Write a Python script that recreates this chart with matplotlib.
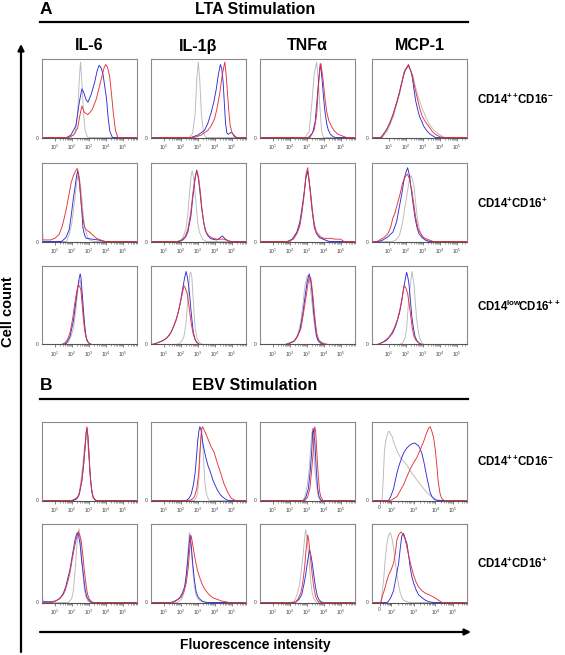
import numpy as np
import matplotlib.pyplot as plt
from matplotlib.ticker import FixedLocator, NullFormatter

plt.rcParams['font.family'] = ['Liberation Sans', 'DejaVu Sans']
plt.rcParams['mathtext.fontset'] = 'custom'
plt.rcParams['mathtext.rm'] = 'Liberation Sans'
plt.rcParams['mathtext.bf'] = 'Liberation Sans:bold'

cytokines = ["IL-6", "IL-1β", "TNFα", "MCP-1"]
subsets = [r"$\mathbf{CD14^{++}\!CD16^{-}}$", r"$\mathbf{CD14^{+}CD16^{+}}$",
           r"$\mathbf{CD14^{low}\!CD16^{++}}$"]

# histograms: (log10 fluorescence, % of max cell count) per panel
# order inside each list: IL-6, IL-1b, TNFa, MCP-1
lta_hi_grey = [
    [(1.9, 0), (2.2, 5), (2.35, 30), (2.45, 75), (2.52, 96), (2.6, 70), (2.7, 30), (2.8, 8), (2.95, 0)],
    [(2.5, 0), (2.7, 5), (2.85, 30), (2.95, 75), (3.04, 96), (3.12, 75), (3.22, 30), (3.35, 5), (3.5, 0)],
    [(2.9, 0), (3.15, 8), (3.3, 42), (3.45, 82), (3.59, 96), (3.68, 75), (3.78, 40), (3.88, 8), (4.0, 0)],
    [(0.6, 0), (0.9, 8), (1.25, 26), (1.62, 55), (1.9, 82), (2.15, 91), (2.4, 80), (2.58, 63), (2.75, 50),
     (2.96, 37), (3.15, 27), (3.35, 18), (3.55, 12), (3.73, 8), (3.95, 4), (4.2, 1), (4.35, 0)],
]
lta_hi_blue = [
    [(1.7, 0), (1.95, 3), (2.25, 15), (2.45, 45), (2.6, 62), (2.7, 58), (2.85, 48), (2.96, 45), (3.15, 55),
     (3.35, 70), (3.5, 85), (3.62, 92), (3.75, 88), (3.85, 80), (3.95, 65), (4.05, 50), (4.15, 25), (4.25, 8), (4.4, 0)],
    [(2.6, 0), (3.0, 3), (3.4, 9), (3.6, 18), (3.8, 32), (3.95, 45), (4.1, 62), (4.22, 80), (4.34, 93), (4.42, 88),
     (4.5, 71), (4.57, 45), (4.64, 19), (4.72, 6), (4.8, 4), (4.92, 6), (5.04, 6), (5.14, 2), (5.24, 0)],
    [(3.1, 0), (3.35, 6), (3.5, 20), (3.62, 50), (3.7, 71), (3.8, 94), (3.86, 85), (3.92, 71), (4.0, 50),
     (4.08, 33), (4.18, 18), (4.27, 10), (4.4, 4), (4.57, 1), (4.7, 0)],
    [(0.56, 0), (0.85, 10), (1.05, 18), (1.23, 29), (1.45, 44), (1.62, 58), (1.8, 74), (1.95, 86), (2.15, 92),
     (2.3, 84), (2.38, 76), (2.48, 60), (2.58, 46), (2.7, 35), (2.8, 27), (3.06, 14), (3.25, 8), (3.44, 4), (3.73, 0)],
]
lta_hi_red = [
    [(1.8, 0), (2.1, 3), (2.35, 12), (2.5, 30), (2.6, 40), (2.75, 32), (2.95, 29), (3.2, 35), (3.45, 49),
     (3.6, 62), (3.75, 75), (3.9, 88), (4.0, 93), (4.1, 90), (4.23, 79), (4.35, 55), (4.45, 32), (4.58, 9), (4.72, 0)],
    [(2.8, 0), (3.2, 3), (3.6, 9), (3.8, 15), (4.0, 24), (4.15, 38), (4.3, 56), (4.45, 80), (4.6, 96), (4.68, 80),
     (4.76, 56), (4.85, 30), (4.92, 15), (5.04, 5), (5.15, 3), (5.3, 0)],
    [(3.2, 0), (3.45, 10), (3.59, 29), (3.68, 60), (3.75, 80), (3.84, 94), (3.9, 85), (3.98, 71), (4.08, 50),
     (4.18, 33), (4.3, 22), (4.47, 14), (4.65, 8), (4.86, 4), (5.1, 2), (5.35, 0)],
    [(0.5, 0), (0.85, 9), (1.23, 28), (1.62, 57), (1.9, 84), (2.15, 93), (2.38, 79), (2.52, 64), (2.67, 50),
     (2.8, 38), (2.96, 27), (3.15, 20), (3.35, 14), (3.55, 8), (3.73, 4), (4.0, 1), (4.2, 0)],
]

lta_mid_grey = [
    [(1.7, 0), (1.86, 10), (2.0, 22), (2.16, 50), (2.3, 75), (2.4, 88), (2.5, 75), (2.6, 55), (2.7, 30),
     (2.8, 15), (2.95, 5), (3.06, 2), (3.3, 0)],
    [(2.0, 0), (2.13, 5), (2.3, 15), (2.42, 35), (2.52, 62), (2.62, 85), (2.68, 90), (2.77, 80), (2.9, 50),
     (3.0, 25), (3.1, 12), (3.29, 3), (3.5, 0)],
    [(2.04, 0), (2.3, 5), (2.52, 15), (2.7, 35), (2.81, 50), (2.95, 80), (3.06, 88), (3.15, 75), (3.25, 60),
     (3.36, 38), (3.48, 20), (3.6, 12), (3.77, 8), (3.9, 4), (4.1, 2), (4.3, 0)],
    [(1.2, 0), (1.42, 2), (1.62, 8), (1.81, 25), (1.95, 45), (2.1, 65), (2.2, 78), (2.29, 84), (2.38, 80),
     (2.48, 70), (2.58, 48), (2.67, 30), (2.8, 15), (2.96, 6), (3.1, 2), (3.3, 0)],
]
lta_mid_blue = [
    [(1.4, 0), (1.66, 5), (1.85, 15), (1.96, 31), (2.1, 55), (2.2, 70), (2.3, 85), (2.36, 90), (2.45, 78),
     (2.52, 60), (2.6, 38), (2.66, 18), (2.76, 8), (2.86, 4), (3.2, 3), (3.56, 2), (3.96, 0)],
    [(1.9, 0), (2.13, 2), (2.3, 6), (2.42, 12), (2.6, 32), (2.71, 55), (2.85, 80), (2.94, 91), (3.05, 80),
     (3.15, 60), (3.25, 40), (3.35, 25), (3.45, 14), (3.58, 8), (3.75, 4), (3.87, 3), (4.1, 2), (4.25, 3),
     (4.38, 6), (4.46, 7), (4.55, 5), (4.63, 3), (4.8, 1), (4.92, 0)],
    [(1.85, 0), (2.15, 3), (2.42, 12), (2.6, 25), (2.71, 40), (2.85, 62), (2.96, 82), (3.06, 90), (3.12, 82),
     (3.19, 70), (3.27, 52), (3.35, 35), (3.45, 18), (3.58, 10), (3.75, 5), (3.96, 3), (4.2, 1), (4.35, 0)],
    [(0.4, 0), (0.65, 2), (0.94, 6), (1.23, 12), (1.45, 25), (1.62, 45), (1.75, 60), (1.9, 80), (2.0, 88),
     (2.1, 94), (2.2, 85), (2.29, 70), (2.42, 48), (2.54, 30), (2.65, 18), (2.77, 10), (2.95, 5), (3.15, 2), (3.4, 0)],
]
lta_mid_red = [
    [(0.25, 30), (0.3, 2), (0.76, 2), (1.0, 4), (1.26, 9), (1.45, 20), (1.66, 39), (1.8, 55), (1.96, 74),
     (2.1, 84), (2.26, 91), (2.33, 93), (2.4, 86), (2.48, 70), (2.56, 48), (2.66, 30), (2.76, 18), (2.9, 14),
     (3.06, 12), (3.25, 8), (3.46, 4), (3.7, 2), (3.96, 0)],
    [(1.8, 0), (2.04, 2), (2.25, 6), (2.42, 15), (2.6, 38), (2.71, 60), (2.85, 82), (2.96, 90), (3.05, 82),
     (3.15, 65), (3.25, 42), (3.38, 22), (3.5, 12), (3.67, 7), (3.9, 4), (4.15, 3), (4.54, 3), (4.8, 1), (5.0, 0)],
    [(1.94, 0), (2.2, 3), (2.42, 10), (2.6, 20), (2.71, 35), (2.85, 60), (2.96, 85), (3.06, 94), (3.14, 78),
     (3.23, 60), (3.32, 40), (3.42, 25), (3.55, 12), (3.77, 6), (4.05, 4), (4.35, 4), (4.7, 3), (5.0, 3), (5.2, 0)],
    [(0.3, 0), (0.46, 2), (0.7, 5), (0.94, 10), (1.1, 18), (1.23, 30), (1.35, 36), (1.52, 50), (1.65, 60),
     (1.81, 75), (1.95, 82), (2.1, 86), (2.2, 80), (2.35, 65), (2.48, 45), (2.58, 30), (2.72, 16), (2.87, 10),
     (3.05, 5), (3.25, 3), (3.6, 0)],
]

lta_low_grey = [
    [(1.6, 0), (1.8, 3), (1.95, 10), (2.1, 20), (2.25, 45), (2.36, 70), (2.45, 80), (2.5, 82), (2.58, 70),
     (2.66, 50), (2.75, 28), (2.82, 12), (2.95, 3), (3.1, 0)],
    [(1.7, 0), (1.9, 1), (2.05, 4), (2.19, 10), (2.3, 25), (2.38, 45), (2.46, 70), (2.53, 90), (2.6, 92),
     (2.66, 85), (2.73, 60), (2.79, 40), (2.86, 20), (2.94, 10), (3.05, 4), (3.13, 2), (3.3, 0)],
    [(1.87, 0), (2.1, 3), (2.34, 6), (2.5, 15), (2.66, 30), (2.8, 55), (2.9, 75), (3.04, 88), (3.12, 84),
     (3.19, 78), (3.28, 60), (3.38, 40), (3.48, 22), (3.57, 10), (3.7, 4), (3.85, 1), (4.0, 0)],
    [(1.6, 0), (1.81, 2), (1.95, 8), (2.04, 20), (2.12, 45), (2.23, 70), (2.35, 93), (2.42, 85), (2.48, 75),
     (2.55, 55), (2.62, 35), (2.72, 18), (2.81, 8), (2.95, 2), (3.06, 0)],
]
lta_low_blue = [
    [(1.5, 0), (1.7, 2), (1.9, 10), (2.1, 30), (2.22, 50), (2.34, 70), (2.42, 82), (2.5, 90), (2.55, 85),
     (2.6, 70), (2.67, 50), (2.74, 30), (2.82, 14), (2.9, 5), (3.05, 1), (3.2, 0)],
    [(0.3, 0), (0.49, 1), (0.87, 4), (1.1, 7), (1.25, 10), (1.45, 16), (1.62, 25), (1.78, 35), (1.9, 45),
     (2.0, 56), (2.09, 68), (2.16, 76), (2.23, 85), (2.32, 93), (2.4, 85), (2.47, 75), (2.55, 58), (2.6, 45),
     (2.68, 28), (2.75, 15), (2.85, 7), (2.94, 3), (3.1, 0)],
    [(1.68, 0), (1.95, 1), (2.25, 4), (2.45, 10), (2.62, 20), (2.78, 40), (2.9, 60), (3.03, 80), (3.15, 90),
     (3.22, 84), (3.28, 75), (3.35, 58), (3.42, 40), (3.5, 25), (3.57, 12), (3.65, 6), (3.75, 3), (3.9, 1), (4.1, 0)],
    [(0.3, 0), (0.46, 1), (0.65, 3), (0.85, 5), (1.05, 10), (1.23, 15), (1.42, 25), (1.62, 40), (1.75, 55),
     (1.85, 70), (1.95, 82), (2.04, 92), (2.12, 85), (2.19, 75), (2.27, 55), (2.35, 35), (2.45, 20), (2.54, 10),
     (2.65, 5), (2.77, 2), (2.95, 0)],
]
lta_low_red = [
    [(1.4, 0), (1.6, 2), (1.75, 6), (1.9, 15), (2.05, 32), (2.2, 55), (2.3, 68), (2.4, 76), (2.47, 74),
     (2.54, 70), (2.62, 50), (2.7, 30), (2.78, 16), (2.86, 8), (3.0, 2), (3.15, 0)],
    [(0.3, 0), (0.49, 1), (0.96, 5), (1.15, 8), (1.34, 12), (1.52, 20), (1.72, 30), (1.86, 42), (2.0, 55),
     (2.1, 65), (2.19, 75), (2.27, 72), (2.38, 65), (2.47, 52), (2.57, 35), (2.66, 22), (2.75, 12), (2.85, 6),
     (2.94, 3), (3.1, 0)],
    [(1.77, 0), (2.0, 2), (2.25, 4), (2.45, 10), (2.66, 20), (2.8, 38), (2.96, 60), (3.08, 78), (3.17, 84),
     (3.23, 86), (3.3, 76), (3.38, 60), (3.45, 42), (3.53, 25), (3.62, 12), (3.72, 6), (3.85, 3), (4.05, 1), (4.3, 0)],
    [(0.3, 0), (0.46, 1), (0.7, 4), (0.94, 8), (1.15, 14), (1.33, 22), (1.5, 32), (1.65, 45), (1.78, 60),
     (1.9, 75), (2.0, 72), (2.1, 65), (2.2, 50), (2.29, 35), (2.38, 20), (2.48, 10), (2.6, 5), (2.75, 2), (2.9, 0)],
]

ebv_hi_grey = [
    [(2.1, 0), (2.3, 3), (2.45, 10), (2.54, 25), (2.65, 45), (2.74, 65), (2.84, 80), (2.9, 78), (2.96, 70),
     (3.03, 50), (3.1, 30), (3.18, 14), (3.26, 5), (3.4, 0)],
    [(2.8, 0), (2.95, 5), (3.05, 20), (3.1, 40), (3.17, 70), (3.23, 92), (3.28, 80), (3.33, 60), (3.38, 40),
     (3.42, 25), (3.5, 10), (3.58, 4), (3.7, 0)],
    [(2.77, 0), (2.9, 5), (3.04, 20), (3.15, 40), (3.23, 65), (3.3, 85), (3.33, 88), (3.38, 75), (3.44, 60),
     (3.5, 35), (3.58, 20), (3.68, 5), (3.8, 0)],
    [(0.84, 0), (0.92, 30), (0.98, 62), (1.05, 75), (1.13, 82), (1.22, 88), (1.27, 88), (1.35, 84), (1.43, 82),
     (1.52, 75), (1.62, 69), (1.75, 62), (1.92, 55), (2.1, 50), (2.31, 45), (2.5, 38), (2.7, 32), (2.9, 26),
     (3.09, 21), (3.3, 15), (3.49, 10), (3.7, 6), (3.9, 3), (4.1, 1), (4.3, 0)],
]
ebv_hi_blue = [
    [(2.1, 0), (2.3, 2), (2.45, 8), (2.6, 25), (2.7, 45), (2.78, 65), (2.85, 85), (2.9, 92), (2.96, 80),
     (3.02, 58), (3.1, 30), (3.18, 12), (3.26, 4), (3.4, 0)],
    [(2.33, 0), (2.5, 3), (2.62, 8), (2.75, 20), (2.85, 35), (2.93, 55), (3.0, 75), (3.07, 88), (3.13, 94),
     (3.2, 90), (3.29, 75), (3.38, 65), (3.48, 55), (3.6, 45), (3.77, 35), (3.9, 26), (4.06, 18), (4.2, 12),
     (4.35, 7), (4.5, 4), (4.63, 2), (4.8, 0)],
    [(2.81, 0), (2.95, 4), (3.1, 15), (3.2, 35), (3.29, 60), (3.35, 85), (3.38, 92), (3.43, 85), (3.48, 75),
     (3.53, 55), (3.58, 35), (3.65, 15), (3.73, 5), (3.85, 0)],
    [(1.23, 0), (1.35, 5), (1.52, 15), (1.62, 25), (1.72, 35), (1.85, 45), (2.01, 55), (2.15, 62), (2.31, 67),
     (2.45, 70), (2.6, 72), (2.7, 73), (2.8, 73), (2.9, 71), (2.99, 70), (3.1, 65), (3.19, 60), (3.3, 50),
     (3.39, 40), (3.5, 28), (3.58, 20), (3.68, 10), (3.78, 5), (3.95, 1), (4.1, 0)],
]
ebv_hi_red = [
    [(2.0, 0), (2.2, 2), (2.4, 5), (2.6, 25), (2.7, 45), (2.76, 60), (2.84, 85), (2.9, 94), (2.96, 82),
     (3.02, 60), (3.08, 35), (3.14, 20), (3.22, 8), (3.3, 3), (3.45, 0)],
    [(2.52, 0), (2.7, 2), (2.81, 5), (2.95, 15), (3.06, 35), (3.13, 60), (3.19, 80), (3.25, 92), (3.29, 94),
     (3.38, 90), (3.48, 85), (3.58, 80), (3.67, 75), (3.8, 68), (3.96, 62), (4.1, 52), (4.25, 42), (4.4, 32),
     (4.54, 22), (4.7, 14), (4.83, 8), (4.98, 3), (5.12, 1), (5.25, 0)],
    [(2.9, 0), (3.05, 4), (3.19, 15), (3.3, 40), (3.38, 60), (3.44, 85), (3.48, 94), (3.53, 88), (3.58, 70),
     (3.63, 50), (3.69, 30), (3.76, 12), (3.83, 5), (3.95, 0)],
    [(1.33, 0), (1.5, 2), (1.72, 5), (1.9, 12), (2.11, 20), (2.3, 30), (2.5, 40), (2.7, 48), (2.9, 55),
     (3.1, 65), (3.29, 75), (3.45, 85), (3.58, 92), (3.68, 94), (3.78, 88), (3.88, 80), (3.98, 65), (4.07, 45),
     (4.15, 25), (4.25, 10), (4.35, 3), (4.5, 0)],
]

ebv_mid_grey = [
    [(1.8, 0), (2.0, 5), (2.1, 15), (2.2, 40), (2.28, 65), (2.35, 85), (2.43, 94), (2.5, 82), (2.55, 70),
     (2.62, 48), (2.69, 30), (2.76, 15), (2.82, 8), (2.95, 2), (3.1, 0)],
    [(1.8, 0), (1.94, 2), (2.1, 6), (2.23, 15), (2.33, 35), (2.42, 60), (2.48, 80), (2.52, 89), (2.58, 78),
     (2.65, 60), (2.73, 38), (2.81, 20), (2.9, 10), (3.0, 5), (3.15, 2), (3.29, 1), (3.45, 0)],
    [(2.1, 0), (2.27, 2), (2.4, 8), (2.56, 20), (2.68, 40), (2.79, 60), (2.87, 80), (2.94, 93), (3.02, 82),
     (3.1, 65), (3.17, 45), (3.25, 25), (3.33, 12), (3.42, 5), (3.55, 1), (3.7, 0)],
    [(0.74, 0), (0.8, 5), (0.86, 15), (0.94, 30), (1.03, 55), (1.13, 75), (1.22, 85), (1.33, 89), (1.42, 82),
     (1.52, 70), (1.62, 52), (1.72, 35), (1.82, 22), (1.92, 12), (2.02, 6), (2.11, 3), (2.3, 1), (2.5, 0)],
]
ebv_mid_blue = [
    [(0.25, 14), (0.3, 1), (0.82, 1), (1.05, 2), (1.22, 4), (1.4, 8), (1.51, 12), (1.65, 20), (1.76, 30),
     (1.9, 42), (2.0, 55), (2.1, 68), (2.2, 80), (2.27, 86), (2.33, 89), (2.4, 86), (2.49, 75), (2.58, 55),
     (2.69, 35), (2.78, 18), (2.88, 8), (3.0, 3), (3.1, 1), (3.2, 0)],
    [(1.4, 0), (1.56, 1), (1.75, 3), (1.94, 6), (2.1, 12), (2.23, 20), (2.33, 35), (2.42, 55), (2.5, 75),
     (2.56, 86), (2.63, 70), (2.71, 50), (2.8, 30), (2.9, 15), (3.0, 8), (3.1, 5), (3.25, 2), (3.38, 1), (3.5, 0)],
    [(2.25, 0), (2.4, 1), (2.55, 4), (2.71, 10), (2.83, 22), (2.94, 35), (3.05, 52), (3.17, 67), (3.25, 60),
     (3.33, 50), (3.42, 35), (3.52, 20), (3.62, 9), (3.71, 4), (3.85, 1), (4.0, 0)],
    [(1.15, 0), (1.23, 2), (1.35, 6), (1.52, 15), (1.65, 30), (1.82, 50), (1.92, 70), (2.01, 85), (2.11, 88),
     (2.2, 82), (2.31, 75), (2.41, 60), (2.5, 45), (2.6, 33), (2.7, 25), (2.85, 16), (2.99, 10), (3.2, 6),
     (3.39, 3), (3.6, 1), (3.86, 0)],
]
ebv_mid_red = [
    [(0.8, 0), (1.05, 2), (1.31, 5), (1.5, 10), (1.61, 15), (1.75, 25), (1.9, 38), (2.03, 55), (2.16, 70),
     (2.28, 82), (2.39, 90), (2.47, 86), (2.55, 80), (2.65, 62), (2.75, 40), (2.85, 22), (2.94, 10), (3.05, 4),
     (3.18, 1), (3.3, 0)],
    [(1.5, 0), (1.65, 1), (1.85, 4), (2.04, 7), (2.2, 15), (2.33, 25), (2.45, 45), (2.52, 65), (2.58, 80),
     (2.62, 85), (2.7, 75), (2.81, 60), (2.9, 50), (3.0, 40), (3.15, 30), (3.29, 22), (3.45, 16), (3.67, 10),
     (3.9, 6), (4.15, 4), (4.4, 2), (4.63, 1), (4.85, 0)],
    [(2.2, 0), (2.37, 1), (2.5, 5), (2.65, 12), (2.77, 25), (2.88, 45), (2.97, 68), (3.06, 86), (3.12, 80),
     (3.17, 70), (3.25, 52), (3.33, 35), (3.42, 20), (3.52, 8), (3.62, 3), (3.71, 1), (3.85, 0)],
    [(0.78, 0), (0.86, 8), (0.95, 14), (1.03, 20), (1.13, 28), (1.23, 35), (1.35, 40), (1.52, 50), (1.62, 62),
     (1.72, 80), (1.82, 86), (1.96, 90), (2.1, 86), (2.21, 80), (2.31, 70), (2.41, 60), (2.55, 47), (2.7, 35),
     (2.85, 26), (2.99, 20), (3.2, 15), (3.39, 12), (3.6, 10), (3.88, 7), (4.1, 4), (4.3, 1), (4.4, 0)],
]

std_ticks = [1, 2, 3, 4, 5]
std_labels = [r"$10^{1}$", r"$10^{2}$", r"$10^{3}$", r"$10^{4}$", r"$10^{5}$"]
biexp_ticks = [0.7, 1.39, 2.7, 3.98, 5.03]
biexp_labels = ["0", r"$10^{2}$", r"$10^{3}$", r"$10^{4}$", r"$10^{5}$"]

GREY, BLUE, RED = "#b9b9b9", "#2e2ed6", "#e5323a"

W, H = 565, 655
fig = plt.figure(figsize=(W / 100, H / 100), dpi=100)
over = fig.add_axes([0, 0, 1, 1])
over.set_xlim(0, W)
over.set_ylim(H, 0)
over.axis("off")

col_left = [42, 151, 260, 372]
pw, ph = 95, 78.5


def draw_panel(left, top, grey, blue, red, lo, ticks, labels):
    ax = fig.add_axes([left / W, 1 - (top + ph) / H, pw / W, ph / H])
    hi = lo + 5.6
    for pts, c in ((grey, GREY), (blue, BLUE), (red, RED)):
        lx = [lo] + [p[0] for p in pts] + [hi]
        cy = [0] + [p[1] for p in pts] + [0]
        if pts[0][0] <= lo + 0.01:
            lx, cy = lx[1:], cy[1:]
        ax.plot(10 ** np.array(lx), cy, color=c, lw=0.65)
    ax.set_xscale("log")
    ax.set_xlim(10 ** lo, 10 ** hi)
    ax.set_ylim(0, 100)
    ax.xaxis.set_major_locator(FixedLocator([10 ** t for t in ticks]))
    ax.set_xticklabels(labels)
    minors = []
    for a, b in zip(ticks[:-1] + [ticks[-1]], ticks[1:] + [ticks[-1] + (ticks[-1] - ticks[-2])]):
        minors += [a + (b - a) * np.log10(k) for k in range(2, 10)]
    minors = [m for m in minors if lo < m < hi]
    ax.xaxis.set_minor_locator(FixedLocator([10 ** m for m in minors]))
    ax.xaxis.set_minor_formatter(NullFormatter())
    ax.set_yticks([0])
    ax.set_yticklabels(["0"])
    ax.tick_params(axis="x", which="major", length=2.2, width=0.5, color="#555555",
                   labelsize=3.6, pad=1.2, labelcolor="#444444")
    ax.tick_params(axis="x", which="minor", length=1.2, width=0.4, color="#555555")
    ax.tick_params(axis="y", length=0, labelsize=3.6, pad=2.5, labelcolor="#444444")
    for s in ax.spines.values():
        s.set_color("#8a8a8a")
        s.set_linewidth(0.8)
    ax.spines["bottom"].set_color("#555555")
    return ax


rows = [
    (59, lta_hi_grey, lta_hi_blue, lta_hi_red, subsets[0], "lta"),
    (163, lta_mid_grey, lta_mid_blue, lta_mid_red, subsets[1], "lta"),
    (266, lta_low_grey, lta_low_blue, lta_low_red, subsets[2], "lta"),
    (422, ebv_hi_grey, ebv_hi_blue, ebv_hi_red, subsets[0], "ebv"),
    (524, ebv_mid_grey, ebv_mid_blue, ebv_mid_red, subsets[1], "ebv"),
]

for top, g, b, r, lab, sec in rows:
    for j in range(4):
        lo = 0.25
        ticks, labels = std_ticks, std_labels
        if j == 3 and sec == "lta":
            lo = 0.0
        if j == 3 and sec == "ebv":
            ticks, labels = biexp_ticks, biexp_labels
        draw_panel(col_left[j], top, g[j], b[j], r[j], lo, ticks, labels)
    over.text(477, top + ph / 2 + 1, lab, fontsize=8.3, ha="left", va="center")

# titles and section bars
over.text(40, 10, "A", fontsize=12.5, fontweight="bold", ha="left", va="center")
over.text(255, 10, "LTA Stimulation", fontsize=11.5, fontweight="bold", ha="center", va="center")
over.plot([40, 468], [22, 22], color="black", lw=1.6)
for j, name in enumerate(cytokines):
    over.text(col_left[j] + pw / 2, 46, name, fontsize=11.5, fontweight="bold", ha="center", va="center")

over.text(40, 385, "B", fontsize=12.5, fontweight="bold", ha="left", va="center")
over.text(255, 385, "EBV Stimulation", fontsize=11.5, fontweight="bold", ha="center", va="center")
over.plot([40, 468], [399, 399], color="black", lw=1.6)

# axis arrows
over.annotate("", xy=(21, 44), xytext=(21, 652),
              arrowprops=dict(arrowstyle="-|>", lw=1.6, color="black", mutation_scale=9, shrinkA=0, shrinkB=0))
over.annotate("", xy=(471, 632), xytext=(40, 632),
              arrowprops=dict(arrowstyle="-|>", lw=1.6, color="black", mutation_scale=9, shrinkA=0, shrinkB=0))
over.text(8, 312, "Cell count", fontsize=10.5, fontweight="bold", rotation=90, ha="center", va="center")
over.text(255, 645, "Fluorescence intensity", fontsize=10, fontweight="bold", ha="center", va="center")

plt.savefig("out.png", dpi=100)
